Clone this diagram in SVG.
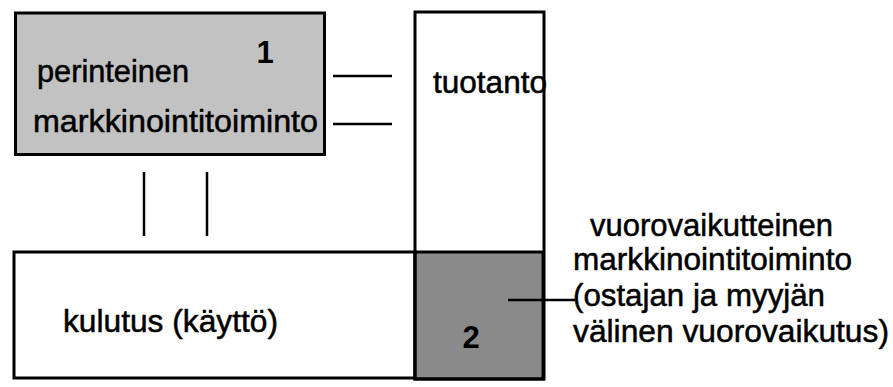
<svg xmlns="http://www.w3.org/2000/svg" width="893" height="387" viewBox="0 0 893 387">
  <style>
    .box { stroke: #000; stroke-width: 3; }
    .txt { font-family: "Liberation Sans", Arial, sans-serif; font-size: 31px; fill: #000; stroke: #000; stroke-width: 0.5; }
    .num { font-family: "Liberation Sans", Arial, sans-serif; font-size: 31px; font-weight: bold; fill: #000; }
    .link { stroke: #000; stroke-width: 2.5; fill: none; }
  </style>
  <rect width="893" height="387" fill="#fff"/>

  <!-- consumption (bottom box) -->
  <g id="kulutus">
    <rect class="box" x="14" y="252" width="401" height="126" fill="#fff"/>
    <text class="txt" x="63" y="332" textLength="215" lengthAdjust="spacingAndGlyphs">kulutus (käyttö)</text>
  </g>

  <!-- interactive marketing area (dark lower part of production column) -->
  <g id="vuorovaikutus">
    <rect class="box" x="415" y="252" width="128" height="127" fill="#8a8a8a"/>
    <text class="num" x="471" y="348" text-anchor="middle">2</text>
  </g>

  <!-- production column -->
  <g id="tuotanto">
    <rect class="box" x="415" y="12" width="129" height="367" fill="none"/>
    <text class="txt" x="433" y="93" textLength="114" lengthAdjust="spacingAndGlyphs">tuotanto</text>
  </g>

  <!-- traditional marketing box -->
  <g id="perinteinen">
    <rect class="box" x="15.5" y="13" width="309" height="141.5" fill="#c2c2c2"/>
    <text class="txt" x="37" y="82" textLength="152" lengthAdjust="spacingAndGlyphs">perinteinen</text>
    <text class="txt" x="33" y="132" textLength="285" lengthAdjust="spacingAndGlyphs">markkinointitoiminto</text>
    <text class="num" x="265" y="63" text-anchor="middle">1</text>
  </g>

  <!-- description label for area 2 -->
  <g id="selite">
    <text class="txt" x="590" y="236" textLength="243" lengthAdjust="spacingAndGlyphs">vuorovaikutteinen</text>
    <text class="txt" x="573" y="270" textLength="279" lengthAdjust="spacingAndGlyphs">markkinointitoiminto</text>
    <text class="txt" x="573" y="306" textLength="252" lengthAdjust="spacingAndGlyphs">(ostajan ja myyjän</text>
    <text class="txt" x="573" y="342" textLength="316" lengthAdjust="spacingAndGlyphs">välinen vuorovaikutus)</text>
  </g>

  <!-- connectors -->
  <g id="connectors">
    <line class="link" x1="333" y1="76" x2="392" y2="76"/>
    <line class="link" x1="333" y1="124" x2="392" y2="124"/>
    <line class="link" x1="144" y1="172" x2="144" y2="236"/>
    <line class="link" x1="207" y1="172" x2="207" y2="236"/>
    <line class="link" x1="508" y1="300" x2="575" y2="300"/>
  </g>
</svg>
